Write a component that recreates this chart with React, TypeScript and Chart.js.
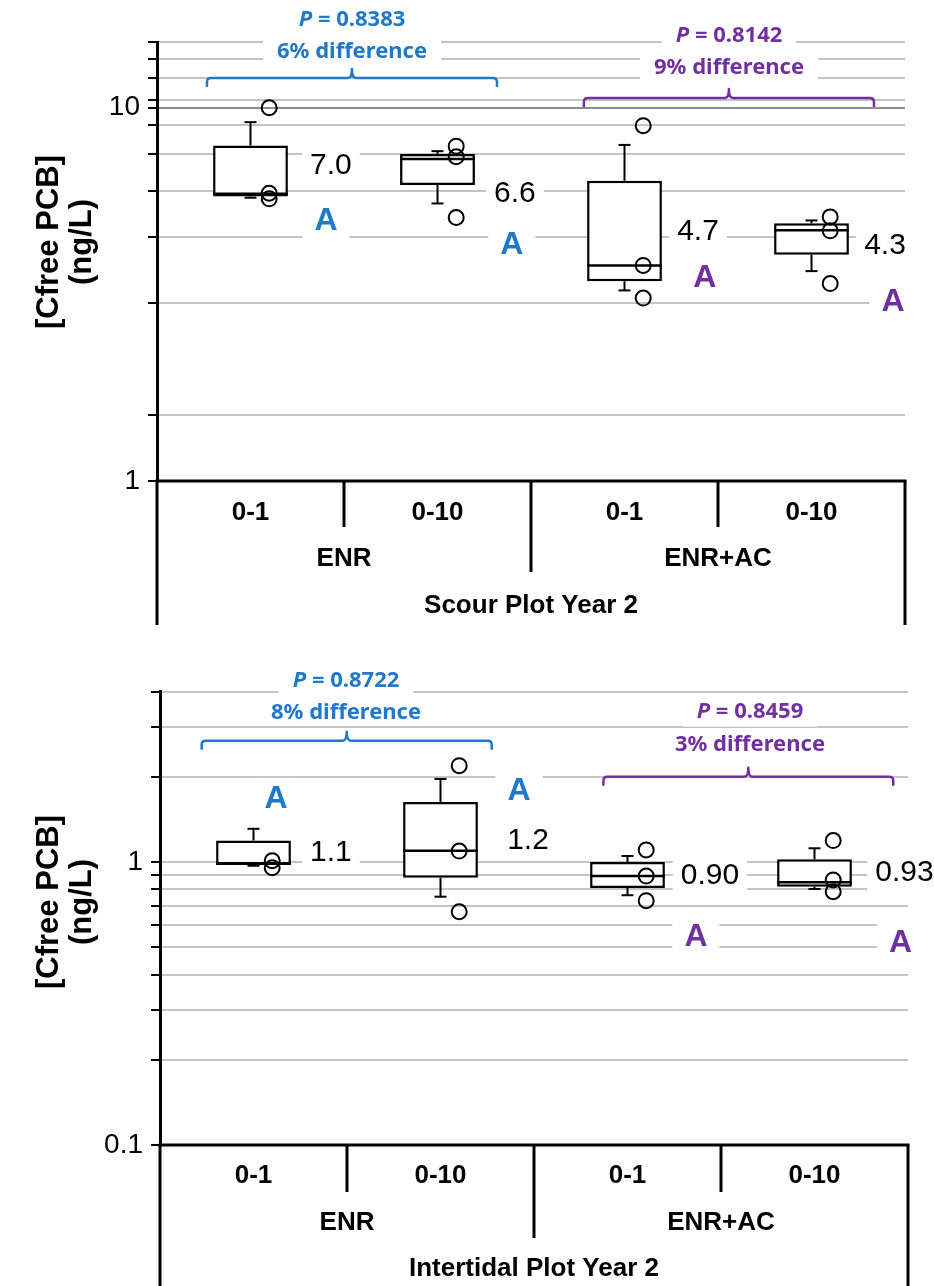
import React, { useEffect, useRef } from 'react';
import { Chart, registerables } from 'chart.js';

Chart.register(...registerables);

// ---------- shared categories ----------
const CATEGORIES = ['0-1', '0-10', '0-1', '0-10'];
const GROUPS = ['ENR', 'ENR+AC'];
const LETTERS = ['A', 'A', 'A', 'A'];

// ---------- Scour Plot Year 2 ----------
const SCOUR_TITLE = 'Scour Plot Year 2';
const SCOUR_Q1 = [5.78, 6.21, 3.43, 4.04];
const SCOUR_Q3 = [7.92, 7.52, 6.37, 4.9];
const SCOUR_MEDIAN = [5.88, 7.29, 3.78, 4.7];
const SCOUR_WHISKER_LOW = [5.74, 5.54, 3.24, 3.65];
const SCOUR_WHISKER_HIGH = [9.15, 7.65, 7.95, 4.99];
const SCOUR_POINTS = [
  [10.0, 5.9, 5.7],
  [7.89, 7.39, 5.08],
  [8.95, 3.78, 3.09],
  [5.1, 4.68, 3.38],
];
const SCOUR_MEAN_LABELS = ['7.0', '6.6', '4.7', '4.3'];
const SCOUR_GRID_VALUES = [1, 1.5, 3, 4.5, 6, 7.5, 9, 10, 10.5, 12, 13.5, 15];
const SCOUR_TICK_LABELS = [1, 10];
const SCOUR_P = ['0.8383', '0.8142'];
const SCOUR_DIFF = ['6% difference', '9% difference'];

// ---------- Intertidal Plot Year 2 ----------
const TIDAL_TITLE = 'Intertidal Plot Year 2';
const TIDAL_Q1 = [0.976, 0.88, 0.81, 0.818];
const TIDAL_Q3 = [1.19, 1.63, 1.0, 1.022];
const TIDAL_MEDIAN = [0.99, 1.096, 0.892, 0.848];
const TIDAL_WHISKER_LOW = [0.97, 0.754, 0.763, 0.803];
const TIDAL_WHISKER_HIGH = [1.31, 1.965, 1.05, 1.118];
const TIDAL_POINTS = [
  [1.01, 0.955],
  [2.19, 1.093, 0.667],
  [1.103, 0.892, 0.73],
  [1.19, 0.864, 0.785],
];
const TIDAL_MEAN_LABELS = ['1.1', '1.2', '0.90', '0.93'];
const TIDAL_GRID_VALUES = [0.1, 0.2, 0.3, 0.4, 0.5, 0.6, 0.7, 0.8, 0.9, 1, 2, 3, 4];
const TIDAL_TICK_LABELS = [0.1, 1];
const TIDAL_P = ['0.8722', '0.8459'];
const TIDAL_DIFF = ['8% difference', '3% difference'];

// ---------- styling ----------
const BLUE = '#1f78c8';
const PURPLE = '#7030a0';
const GROUP_COLORS = [BLUE, PURPLE];
const NOTE_FONT = "'Noto Sans', 'Liberation Sans', sans-serif";
const AXIS_FONT = "'Liberation Sans', Arial, sans-serif";
const POINT_DX = 0.1;

const STYLES: Record<string, { size: number; padX: number; padY: number; font: string }> = {
  p: { size: 22, padX: 14, padY: 4, font: `bold 22px ${NOTE_FONT}` },
  diff: { size: 22, padX: 14, padY: 2, font: `bold 22px ${NOTE_FONT}` },
  mean: { size: 30, padX: 8, padY: 3, font: `30px ${AXIS_FONT}` },
  letter: { size: 32, padX: 12, padY: 5, font: `bold 32px ${AXIS_FONT}` },
};

const SCOUR_LAYOUT = {
  top: 0,
  height: 640,
  padTop: 42,
  padBottom: 159,
  padRight: 29,
  axisWidth: 157,
  yMin: 1,
  yMax: 15,
  titleCenterY: 242,
  pText: [{ x: 0.543, y: 17.17 }, { x: 2.559, y: 15.56 }],
  diffText: [{ x: 0.543, y: 14.1 }, { x: 2.559, y: 12.78 }],
  brackets: [{ x1: -0.233, x2: 1.318, y: 12.01 }, { x1: 1.783, x2: 3.334, y: 10.62 }],
  means: [{ x: 0.43, y: 6.98 }, { x: 1.414, y: 5.87 }, { x: 2.393, y: 4.65 }, { x: 3.393, y: 4.26 }],
  letters: [{ x: 0.404, y: 4.97 }, { x: 1.398, y: 4.29 }, { x: 2.43, y: 3.5 }, { x: 3.436, y: 3.02 }],
  catDy: 32,
  groupDy: 78,
  titleDy: 125,
  innerDepth: 46,
  midDepth: 91,
  outerDepth: 144,
};

const TIDAL_LAYOUT = {
  top: 640,
  height: 646,
  padTop: 51.6,
  padBottom: 141,
  padRight: 26,
  axisWidth: 160,
  yMin: 0.1,
  yMax: 4,
  titleCenterY: 262,
  pText: [{ x: 0.495, y: 4.36 }, { x: 2.655, y: 3.4 }],
  diffText: [{ x: 0.495, y: 3.38 }, { x: 2.655, y: 2.6 }],
  brackets: [{ x1: -0.277, x2: 1.274, y: 2.68 }, { x1: 1.871, x2: 3.421, y: 2.0 }],
  means: [{ x: 0.414, y: 1.08 }, { x: 1.468, y: 1.19 }, { x: 2.441, y: 0.892 }, { x: 3.481, y: 0.918 }],
  letters: [{ x: 0.12, y: 1.67 }, { x: 1.42, y: 1.78 }, { x: 2.366, y: 0.541 }, { x: 3.46, y: 0.518 }],
  catDy: 31,
  groupDy: 78,
  titleDy: 124,
  innerDepth: 47,
  midDepth: 93,
  outerDepth: 141,
};

type Spec = {
  title: string;
  q1: number[];
  q3: number[];
  median: number[];
  wLow: number[];
  wHigh: number[];
  points: number[][];
  meanLabels: string[];
  gridValues: number[];
  tickLabels: number[];
  pValues: string[];
  diffs: string[];
  layout: typeof SCOUR_LAYOUT;
};

const SCOUR_SPEC: Spec = {
  title: SCOUR_TITLE,
  q1: SCOUR_Q1,
  q3: SCOUR_Q3,
  median: SCOUR_MEDIAN,
  wLow: SCOUR_WHISKER_LOW,
  wHigh: SCOUR_WHISKER_HIGH,
  points: SCOUR_POINTS,
  meanLabels: SCOUR_MEAN_LABELS,
  gridValues: SCOUR_GRID_VALUES,
  tickLabels: SCOUR_TICK_LABELS,
  pValues: SCOUR_P,
  diffs: SCOUR_DIFF,
  layout: SCOUR_LAYOUT,
};

const TIDAL_SPEC: Spec = {
  title: TIDAL_TITLE,
  q1: TIDAL_Q1,
  q3: TIDAL_Q3,
  median: TIDAL_MEDIAN,
  wLow: TIDAL_WHISKER_LOW,
  wHigh: TIDAL_WHISKER_HIGH,
  points: TIDAL_POINTS,
  meanLabels: TIDAL_MEAN_LABELS,
  gridValues: TIDAL_GRID_VALUES,
  tickLabels: TIDAL_TICK_LABELS,
  pValues: TIDAL_P,
  diffs: TIDAL_DIFF,
  layout: TIDAL_LAYOUT,
};

type Item = { kind: string; text: string; x: number; y: number; color: string };

function measureItem(ctx: CanvasRenderingContext2D, it: Item) {
  const st = STYLES[it.kind];
  if (it.kind === 'p') {
    ctx.font = `italic bold ${st.size}px ${NOTE_FONT}`;
    const w1 = ctx.measureText('P').width;
    ctx.font = st.font;
    const w2 = ctx.measureText(` = ${it.text}`).width;
    return { w: w1 + w2, w1 };
  }
  ctx.font = st.font;
  return { w: ctx.measureText(it.text).width, w1: 0 };
}

function drawBracket(ctx: CanvasRenderingContext2D, x1: number, x2: number, y: number, color: string) {
  const drop = 9;
  const nub = 9;
  const r = 4;
  const xc = (x1 + x2) / 2;
  ctx.strokeStyle = color;
  ctx.lineWidth = 2.5;
  ctx.lineJoin = 'round';
  ctx.beginPath();
  ctx.moveTo(x1, y + drop);
  ctx.lineTo(x1, y + r);
  ctx.quadraticCurveTo(x1, y, x1 + r, y);
  ctx.lineTo(xc - r, y);
  ctx.quadraticCurveTo(xc, y, xc, y - nub);
  ctx.quadraticCurveTo(xc, y, xc + r, y);
  ctx.lineTo(x2 - r, y);
  ctx.quadraticCurveTo(x2, y, x2, y + r);
  ctx.lineTo(x2, y + drop);
  ctx.stroke();
}

function line(ctx: CanvasRenderingContext2D, x1: number, y1: number, x2: number, y2: number) {
  ctx.beginPath();
  ctx.moveTo(x1, y1);
  ctx.lineTo(x2, y2);
  ctx.stroke();
}

function makeDecor(spec: Spec) {
  const L = spec.layout;
  return {
    id: 'decor',
    beforeDatasetsDraw(chart: any) {
      const ctx: CanvasRenderingContext2D = chart.ctx;
      const xs = chart.scales.xp;
      const ys = chart.scales.y;
      const items: Item[] = [];
      spec.pValues.forEach((p, g) =>
        items.push({ kind: 'p', text: p, x: L.pText[g].x, y: L.pText[g].y, color: GROUP_COLORS[g] })
      );
      spec.diffs.forEach((d, g) =>
        items.push({ kind: 'diff', text: d, x: L.diffText[g].x, y: L.diffText[g].y, color: GROUP_COLORS[g] })
      );
      spec.meanLabels.forEach((t, i) =>
        items.push({ kind: 'mean', text: t, x: L.means[i].x, y: L.means[i].y, color: '#000' })
      );
      LETTERS.forEach((t, i) =>
        items.push({ kind: 'letter', text: t, x: L.letters[i].x, y: L.letters[i].y, color: GROUP_COLORS[i < 2 ? 0 : 1] })
      );
      ctx.save();
      for (const it of items) {
        const st = STYLES[it.kind];
        const { w } = measureItem(ctx, it);
        const px = xs.getPixelForValue(it.x);
        const py = ys.getPixelForValue(it.y);
        ctx.fillStyle = '#fff';
        ctx.fillRect(px - w / 2 - st.padX, py - st.size / 2 - st.padY, w + 2 * st.padX, st.size + 2 * st.padY);
      }
      ctx.textBaseline = 'middle';
      ctx.textAlign = 'left';
      for (const it of items) {
        const st = STYLES[it.kind];
        const { w, w1 } = measureItem(ctx, it);
        const px = xs.getPixelForValue(it.x);
        const py = ys.getPixelForValue(it.y);
        const x0 = px - w / 2;
        ctx.fillStyle = it.color;
        if (it.kind === 'p') {
          ctx.font = `italic bold ${st.size}px ${NOTE_FONT}`;
          ctx.fillText('P', x0, py);
          ctx.font = st.font;
          ctx.fillText(` = ${it.text}`, x0 + w1, py);
        } else {
          ctx.font = st.font;
          ctx.fillText(it.text, x0, py);
        }
      }
      L.brackets.forEach((b, g) =>
        drawBracket(ctx, xs.getPixelForValue(b.x1), xs.getPixelForValue(b.x2), ys.getPixelForValue(b.y), GROUP_COLORS[g])
      );
      ctx.restore();
    },
    afterDatasetDraw(chart: any, args: any) {
      if (args.index !== 0) return;
      const ctx: CanvasRenderingContext2D = chart.ctx;
      const ys = chart.scales.y;
      const meta = chart.getDatasetMeta(0);
      ctx.save();
      ctx.strokeStyle = '#000';
      const cap = 6;
      meta.data.forEach((bar: any, i: number) => {
        const { x, width } = bar.getProps(['x', 'width'], true);
        const ym = ys.getPixelForValue(spec.median[i]);
        ctx.lineWidth = 2.5;
        line(ctx, x - width / 2, ym, x + width / 2, ym);
        const yq3 = ys.getPixelForValue(spec.q3[i]);
        const yhi = ys.getPixelForValue(spec.wHigh[i]);
        const yq1 = ys.getPixelForValue(spec.q1[i]);
        const ylo = ys.getPixelForValue(spec.wLow[i]);
        ctx.lineWidth = 2;
        line(ctx, x, yq3, x, yhi);
        line(ctx, x - cap, yhi, x + cap, yhi);
        line(ctx, x, yq1, x, ylo);
        line(ctx, x - cap, ylo, x + cap, ylo);
      });
      ctx.restore();
    },
    afterDraw(chart: any) {
      const ctx: CanvasRenderingContext2D = chart.ctx;
      const xs = chart.scales.xp;
      const { left, right, bottom } = chart.chartArea;
      ctx.save();
      ctx.strokeStyle = '#000';
      ctx.lineWidth = 3;
      line(ctx, left - 1.5, bottom, right + 1.5, bottom);
      line(ctx, left, bottom, left, bottom + L.outerDepth);
      line(ctx, right, bottom, right, bottom + L.outerDepth);
      line(ctx, xs.getPixelForValue(0.5), bottom, xs.getPixelForValue(0.5), bottom + L.innerDepth);
      line(ctx, xs.getPixelForValue(2.5), bottom, xs.getPixelForValue(2.5), bottom + L.innerDepth);
      line(ctx, xs.getPixelForValue(1.5), bottom, xs.getPixelForValue(1.5), bottom + L.midDepth);
      ctx.fillStyle = '#000';
      ctx.textAlign = 'center';
      ctx.textBaseline = 'middle';
      ctx.font = `bold 26px ${AXIS_FONT}`;
      CATEGORIES.forEach((c, i) => ctx.fillText(c, xs.getPixelForValue(i), bottom + L.catDy));
      GROUPS.forEach((g, k) => ctx.fillText(g, xs.getPixelForValue(k * 2 + 0.5), bottom + L.groupDy));
      ctx.fillText(spec.title, (left + right) / 2, bottom + L.titleDy);
      // y-axis title
      ctx.font = `bold 31px ${AXIS_FONT}`;
      const lines = ['[Cfree PCB]', '(ng/L)'];
      const xsTitle = [49, 82];
      lines.forEach((t, k) => {
        ctx.save();
        ctx.translate(xsTitle[k], L.titleCenterY);
        ctx.rotate(-Math.PI / 2);
        ctx.fillText(t, 0, 0);
        ctx.restore();
      });
      ctx.restore();
    },
  };
}

function buildConfig(spec: Spec): any {
  const L = spec.layout;
  const pointData: { x: number; y: number }[] = [];
  spec.points.forEach((vals, i) => vals.forEach((v) => pointData.push({ x: i + POINT_DX, y: v })));
  return {
    type: 'bar',
    data: {
      labels: CATEGORIES.map((c, i) => `${GROUPS[i < 2 ? 0 : 1]} ${c}`),
      datasets: [
        {
          type: 'bar',
          label: 'box',
          data: spec.q1.map((q, i) => [q, spec.q3[i]]),
          backgroundColor: '#fff',
          borderColor: '#000',
          borderWidth: 2.5,
          borderSkipped: false,
          grouped: false,
          barPercentage: 0.4,
          categoryPercentage: 1,
          order: 2,
          xAxisID: 'x',
          yAxisID: 'y',
        },
        {
          type: 'scatter',
          label: 'points',
          data: pointData,
          xAxisID: 'xp',
          yAxisID: 'y',
          pointRadius: 7.5,
          pointBorderWidth: 2,
          pointBorderColor: '#000',
          pointBackgroundColor: 'rgba(255,255,255,0)',
          showLine: false,
          order: 1,
        },
      ],
    },
    options: {
      responsive: false,
      animation: false,
      events: [],
      layout: { padding: { top: L.padTop, bottom: L.padBottom, right: L.padRight, left: 0 } },
      plugins: { legend: { display: false }, tooltip: { enabled: false } },
      scales: {
        x: { type: 'category', display: false, offset: true },
        xp: { type: 'linear', display: false, min: -0.5, max: 3.5, offset: false, grid: { offset: false } },
        y: {
          type: 'logarithmic',
          min: L.yMin,
          max: L.yMax,
          afterBuildTicks: (s: any) => {
            s.ticks = spec.gridValues.map((v) => ({ value: v }));
          },
          afterFit: (s: any) => {
            s.width = L.axisWidth;
          },
          ticks: {
            autoSkip: false,
            color: '#000',
            padding: 8,
            font: { family: AXIS_FONT, size: 28 },
            callback: (v: number) => (spec.tickLabels.includes(v) ? String(v) : ''),
          },
          grid: {
            color: (c: any) => (c.tick && c.tick.value === 10 ? '#8c8c8c' : '#c4c4c4'),
            lineWidth: 2,
            tickColor: '#000',
            tickWidth: 2,
            tickLength: 9,
          },
          border: { color: '#000', width: 3 },
        },
      },
    },
    plugins: [makeDecor(spec)],
  };
}

function Panel({ spec }: { spec: Spec }) {
  const ref = useRef<HTMLCanvasElement>(null);
  useEffect(() => {
    const chart = new Chart(ref.current as HTMLCanvasElement, buildConfig(spec));
    return () => chart.destroy();
  }, [spec]);
  return (
    <canvas
      ref={ref}
      width={934}
      height={spec.layout.height}
      style={{ position: 'absolute', left: 0, top: spec.layout.top, width: 934, height: spec.layout.height }}
    />
  );
}

export default function App() {
  return (
    <div style={{ position: 'absolute', left: 0, top: 0, width: 934, height: 1286, background: '#fff', overflow: 'hidden' }}>
      <Panel spec={SCOUR_SPEC} />
      <Panel spec={TIDAL_SPEC} />
    </div>
  );
}
